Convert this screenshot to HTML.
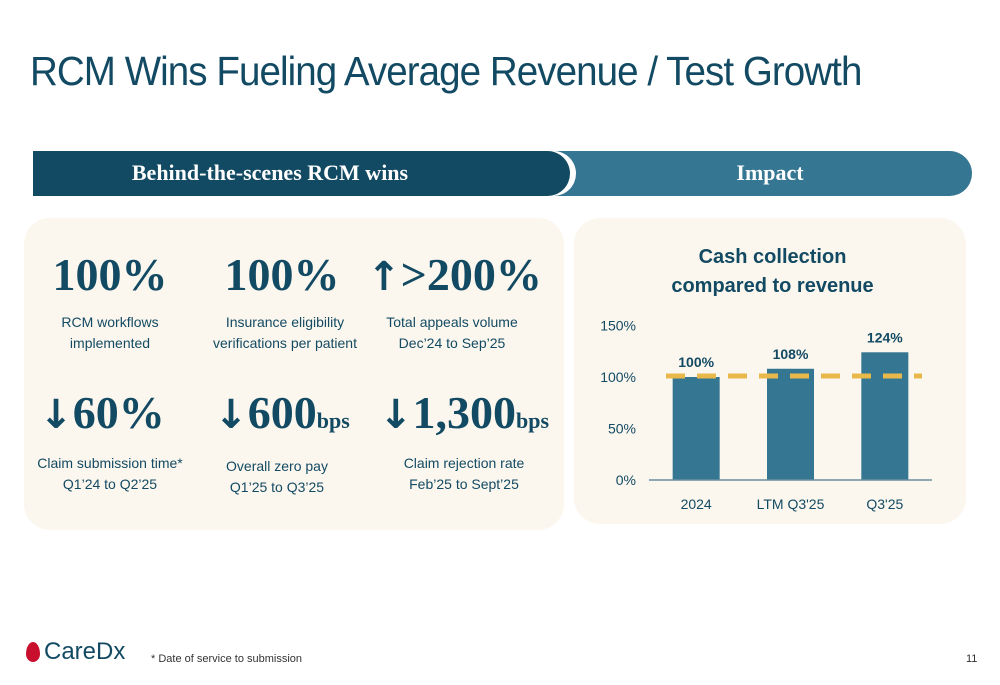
<!DOCTYPE html>
<html><head><meta charset="utf-8"><style>
body{margin:0;width:1000px;height:685px;background:#fff;position:relative;overflow:hidden;font-family:"Liberation Sans",sans-serif;color:#134a63}
.abs{position:absolute}
.title{left:30px;top:48px;font-size:41px;color:#134a63;letter-spacing:-1px;transform:scaleX(0.94);transform-origin:left}
.big{font-family:"Liberation Serif",serif;font-weight:bold;font-size:46px;color:#134a63;text-align:center;width:180px;white-space:nowrap}
.big small{font-size:22px}
.arr{font-family:"DejaVu Sans";font-weight:bold;font-size:40px}
.cap{font-size:14px;text-align:center;width:190px;line-height:21px;color:#134a63}
</style></head><body>
<div class="abs title">RCM Wins Fueling Average Revenue / Test Growth</div>

<div class="abs" style="left:540px;top:151px;width:432px;height:45px;background:#357692;border-radius:0 23px 23px 0"></div>
<div class="abs" style="left:700px;top:160px;width:140px;text-align:center;color:#fff;font-family:'Liberation Serif',serif;font-weight:bold;font-size:22px">Impact</div>
<div class="abs" style="left:33px;top:151px;width:537px;height:45px;background:#134a63;border-radius:0 23px 23px 0;box-shadow:6px 0 0 0 #fff"></div>
<div class="abs" style="left:90px;top:160px;width:360px;text-align:center;color:#fff;font-family:'Liberation Serif',serif;font-weight:bold;font-size:22px">Behind-the-scenes RCM wins</div>

<div class="abs" style="left:24px;top:218px;width:540px;height:312px;background:#fbf7ee;border-radius:26px"></div>
<div class="abs" style="left:574px;top:218px;width:392px;height:306px;background:#fbf7ee;border-radius:26px"></div>

<div class="abs big" style="left:20px;top:248px">100%</div>
<div class="abs cap" style="left:15px;top:312px">RCM workflows<br>implemented</div>
<div class="abs big" style="left:192px;top:248px">100%</div>
<div class="abs cap" style="left:180px;top:312px;width:210px">Insurance eligibility<br>verifications per patient</div>
<div class="abs big" style="left:362px;top:248px;width:185px"><span class="arr">↑</span>&gt;200%</div>
<div class="abs cap" style="left:357px;top:312px">Total appeals volume<br>Dec’24 to Sep’25</div>

<div class="abs big" style="left:12px;top:386px"><span class="arr">↓</span>60%</div>
<div class="abs cap" style="left:15px;top:453px">Claim submission time*<br>Q1’24 to Q2’25</div>
<div class="abs big" style="left:192px;top:386px;width:180px"><span class="arr">↓</span>600<small>bps</small></div>
<div class="abs cap" style="left:182px;top:456px">Overall zero pay<br>Q1’25 to Q3’25</div>
<div class="abs big" style="left:364px;top:386px;width:200px"><span class="arr">↓</span>1,300<small>bps</small></div>
<div class="abs cap" style="left:369px;top:453px">Claim rejection rate<br>Feb’25 to Sept’25</div>

<div class="abs" style="left:640px;top:243px;width:265px;text-align:center;font-weight:bold;font-size:20px;line-height:29px;color:#134a63">Cash collection<br>compared to revenue</div>
<svg class="abs" style="left:0;top:0" width="1000" height="685" id="chart"></svg>

<div class="abs" style="left:26px;top:638px;font-size:24px;color:#134a63;font-family:'Liberation Sans',sans-serif"><span style="display:inline-block;width:14px;height:20px;background:#c8102e;border-radius:50% 50% 50% 50%/60% 60% 40% 40%;vertical-align:-3px;margin-right:4px"></span>CareDx</div>
<div class="abs" style="left:151px;top:653px;font-size:11px;color:#333">* Date of service to submission</div>
<div class="abs" style="left:966px;top:653px;font-size:11px;color:#333">11</div>

<script>
const categories=["2024","LTM Q3'25","Q3'25"];
const values=[100,108,124];
const ticks=[0,50,100,150];
const reference=100;
const svg=document.getElementById('chart');
const NS='http://www.w3.org/2000/svg';
const y0=480, pxPer=1.03, x0=649, x1=932;
const y=v=>y0-v*pxPer;
const band=(x1-x0)/categories.length;
const cx=i=>x0+band*(i+0.5);
function mk(t,a,txt){const e=document.createElementNS(NS,t);for(const k in a)e.setAttribute(k,a[k]);if(txt!==undefined)e.textContent=txt;svg.appendChild(e);return e;}
ticks.forEach(t=>{
 const e=mk('text',{x:636,y:y(t)+5,'text-anchor':'end','font-size':14,fill:'#134a63','font-family':'Liberation Sans'},t+'%');
 
 
});
categories.forEach((c,i)=>{
 const b=mk('rect',{x:cx(i)-23.5,y:y(values[i]),width:47,height:y0-y(values[i]),fill:'#357692'});
 
 
 const l=mk('text',{x:cx(i),y:y(values[i])-10,'text-anchor':'middle','font-size':14,'font-weight':'bold',fill:'#134a63','font-family':'Liberation Sans'},values[i]+'%');
 
 
 const xl=mk('text',{x:cx(i),y:509,'text-anchor':'middle','font-size':14,fill:'#134a63','font-family':'Liberation Sans'},c);
 
 
});
const ax=mk('line',{x1:x0,x2:x1,y1:y0,y2:y0,stroke:'#6a8fa0','stroke-width':1.5});


const ref=mk('line',{x1:666,x2:922,y1:y(reference)-1,y2:y(reference)-1,stroke:'#e8b94a','stroke-width':5,'stroke-dasharray':'19 12'});


</script>
</body></html>
